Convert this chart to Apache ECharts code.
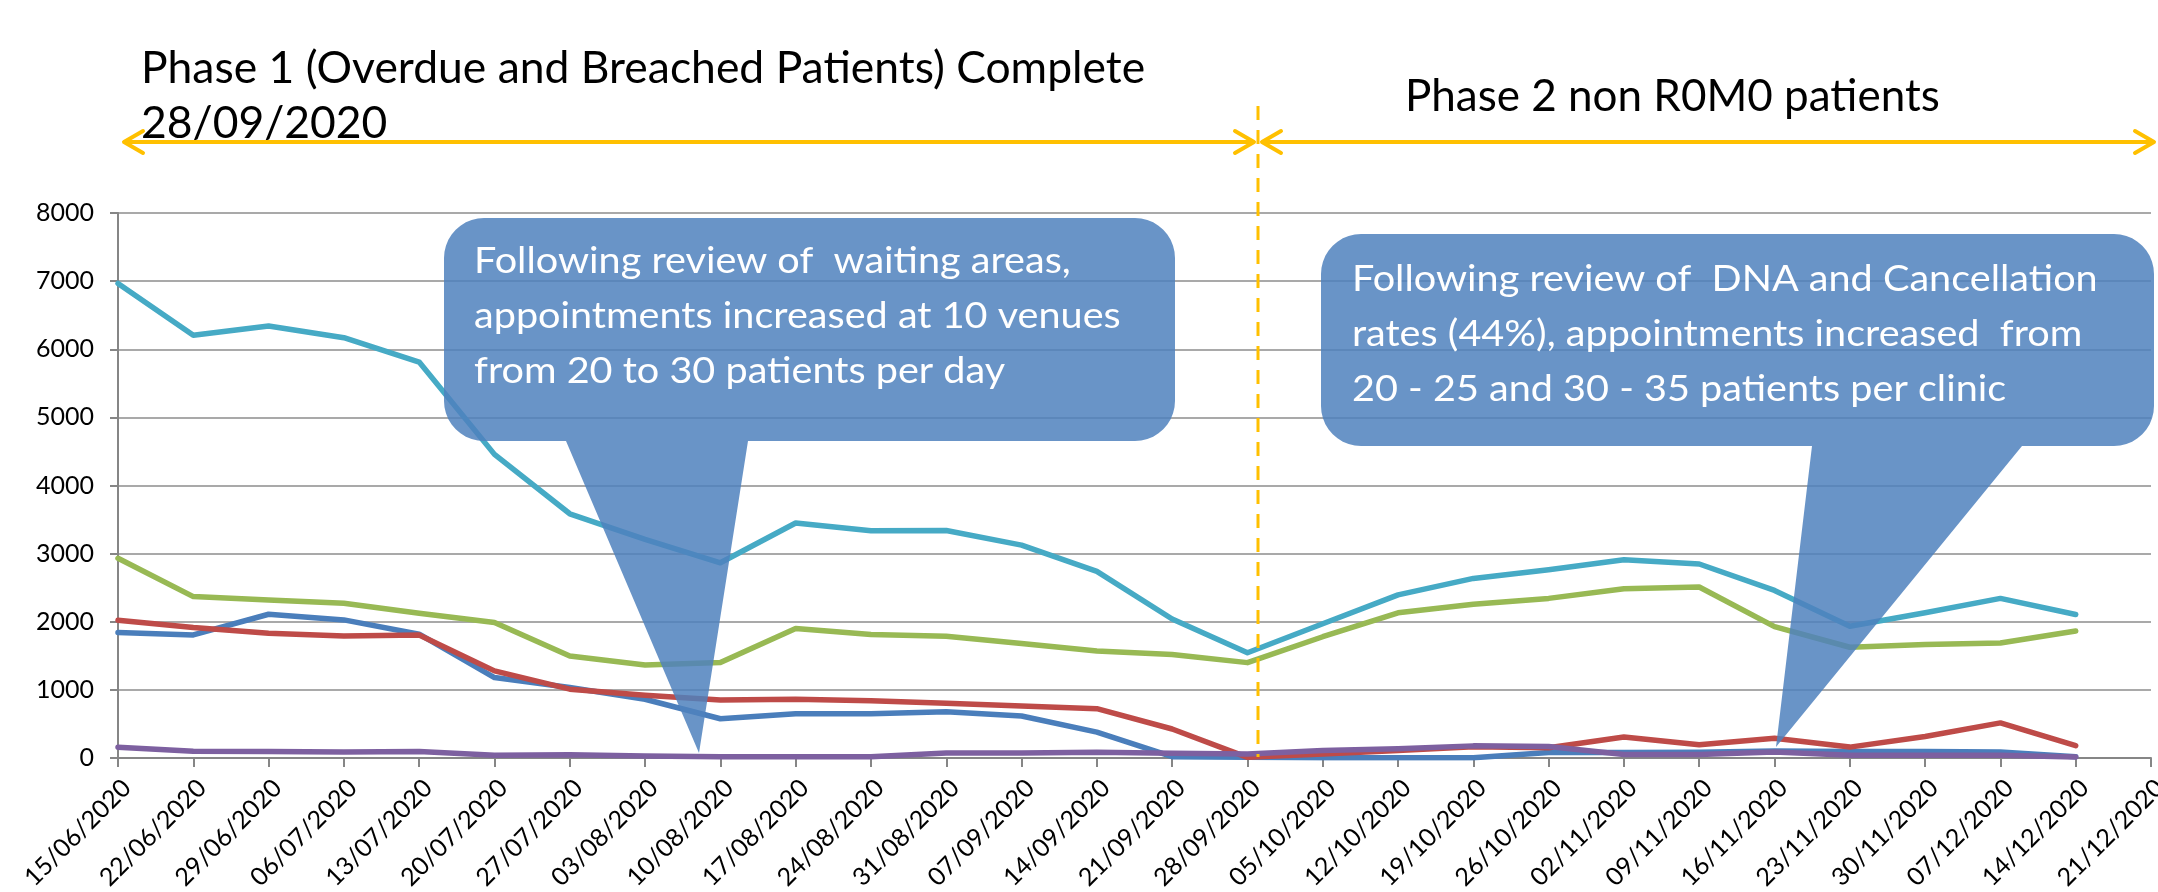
<!DOCTYPE html>
<html><head><meta charset="utf-8">
<script src="https://cdn.jsdelivr.net/npm/echarts@6/dist/echarts.min.js"></script>
<style>html,body{margin:0;padding:0;background:#fff}#c{width:2158px;height:892px}</style>
</head><body><div id="c"></div>
<script>
const categories = ['15/06/2020','22/06/2020','29/06/2020','06/07/2020','13/07/2020','20/07/2020','27/07/2020','03/08/2020','10/08/2020','17/08/2020','24/08/2020','31/08/2020','07/09/2020','14/09/2020','21/09/2020','28/09/2020','05/10/2020','12/10/2020','19/10/2020','26/10/2020','02/11/2020','09/11/2020','16/11/2020','23/11/2020','30/11/2020','07/12/2020','14/12/2020','21/12/2020'];
const blueValues   = [1841,1807,2110,2027,1817,1181,1034,862,576,650,650,680,616,379,20,10,5,5,5,79,79,84,104,94,94,89,20,null];
const redValues    = [2022,1914,1831,1792,1807,1279,1010,921,852,862,842,803,764,724,426,10,60,110,165,150,307,195,290,160,315,515,180,null];
const greenValues  = [2932,2369,2320,2271,2125,1988,1497,1366,1402,1901,1812,1786,1681,1570,1520,1400,1780,2131,2258,2343,2485,2510,1929,1626,1667,1687,1864,null];
const purpleValues = [158,99,94,89,94,39,49,30,20,20,20,74,74,84,69,59,109,134,178,168,50,50,89,40,40,40,15,null];
const aquaValues   = [6966,6204,6340,6169,5812,4457,3585,3210,2866,3450,3335,3340,3125,2740,2040,1545,1970,2394,2636,2763,2910,2848,2460,1935,2131,2343,2106,null];
const yTicks = {min:0, max:8000, interval:1000};

const FONT = 'Lato, "Open Sans", sans-serif';
const ORANGE = '#FFC000';

function calloutPoints(x0,y0,x1,y1,r,tailL,tailR,tipX,tipY){
  const pts=[];
  function arc(cx,cy,a0,a1){for(let k=0;k<=10;k++){const a=a0+(a1-a0)*k/10;pts.push([cx+r*Math.cos(a),cy+r*Math.sin(a)]);}}
  arc(x0+r,y0+r,Math.PI,1.5*Math.PI);
  arc(x1-r,y0+r,1.5*Math.PI,2*Math.PI);
  arc(x1-r,y1-r,0,0.5*Math.PI);
  pts.push([tailR,y1]);pts.push([tipX,tipY]);pts.push([tailL,y1]);
  arc(x0+r,y1-r,0.5*Math.PI,Math.PI);
  return pts;
}
function txt(x,y,s,size,color,sx){
  return {type:'text',x:x,y:y,scaleX:sx||1,z:110,silent:true,style:{text:s,font:size+'px '+FONT,fill:color,textAlign:'left',textVerticalAlign:'middle',align:'left',verticalAlign:'middle'}};
}
function arrowHead(tx,ty,dir){
  return {type:'polyline',z:105,silent:true,shape:{points:[[tx+dir*19,ty-11],[tx,ty],[tx+dir*19,ty+11]]},style:{stroke:ORANGE,lineWidth:4,fill:null,lineCap:'round',lineJoin:'round'}};
}

const AY=142;
const elements=[
  txt(141,69,'Phase 1 (Overdue and Breached Patients) Complete',44,'#000',1.01),
  txt(141,124,'28/09/2020',44,'#000',1.01),
  txt(1405,97,'Phase 2 non R0M0 patients',44,'#000',1.0),
  {type:'line',z:104,silent:true,shape:{x1:1258,y1:106,x2:1258,y2:757},style:{stroke:ORANGE,lineWidth:3,lineDash:[14,10]}},
  {type:'line',z:105,silent:true,shape:{x1:124,y1:AY,x2:1254,y2:AY},style:{stroke:ORANGE,lineWidth:4}},
  arrowHead(124,AY,1),arrowHead(1254,AY,-1),
  {type:'line',z:105,silent:true,shape:{x1:1262,y1:AY,x2:2154,y2:AY},style:{stroke:ORANGE,lineWidth:4}},
  arrowHead(1262,AY,1),arrowHead(2154,AY,-1),
  {type:'polygon',z:100,silent:true,shape:{points:calloutPoints(444,218,1175,441,40,566,748,699,753)},style:{fill:'rgba(79,129,189,0.85)'}},
  txt(474,261,'Following review of  waiting areas,',36,'#fff',1.1),
  txt(474,316,'appointments increased at 10 venues',36,'#fff',1.1),
  txt(474,371,'from 20 to 30 patients per day',36,'#fff',1.1),
  {type:'polygon',z:100,silent:true,shape:{points:calloutPoints(1321,234,2154,446,40,1812,2022,1776,747)},style:{fill:'rgba(79,129,189,0.85)'}},
  txt(1352,279,'Following review of  DNA and Cancellation',36,'#fff',1.1),
  txt(1352,334,'rates (44%), appointments increased  from',36,'#fff',1.1),
  txt(1352,389,'20 - 25 and 30 - 35 patients per clinic',36,'#fff',1.1)
];

function mk(name,data,color){
  return {name:name,type:'line',data:data,showSymbol:false,symbol:'none',smooth:false,connectNulls:false,
    lineStyle:{color:color,width:5.5,cap:'round',join:'round'},itemStyle:{color:color},emphasis:{disabled:true},silent:true};
}

const chart=echarts.init(document.getElementById('c'),null,{renderer:'canvas'});
chart.setOption({
  animation:false,
  backgroundColor:'#fff',
  textStyle:{fontFamily:FONT},
  grid:{left:118,right:7,top:213,bottom:134,containLabel:false,outerBoundsMode:'none'},
  xAxis:{type:'category',data:categories,boundaryGap:false,
    axisLine:{show:true,lineStyle:{color:'#868686',width:2}},
    axisTick:{show:true,interval:0,length:9,lineStyle:{color:'#868686',width:2}},
    axisLabel:{interval:0,rotate:45,fontSize:25,color:'#000',fontFamily:FONT,margin:17,verticalAlign:'top'},
    splitLine:{show:false}},
  yAxis:{type:'value',min:yTicks.min,max:yTicks.max,interval:yTicks.interval,
    axisLine:{show:true,lineStyle:{color:'#868686',width:2}},
    axisTick:{show:true,length:8,lineStyle:{color:'#868686',width:2}},
    axisLabel:{fontSize:25,color:'#000',fontFamily:FONT,margin:24,formatter:function(v){return String(v);}},
    splitLine:{show:true,lineStyle:{color:'#8c8c8c',width:1.5}}},
  series:[mk('Blue',blueValues,'#4A7EBB'),mk('Red',redValues,'#BE4B48'),mk('Green',greenValues,'#98B954'),mk('Purple',purpleValues,'#7D60A0'),mk('Aqua',aquaValues,'#46AAC5')],
  graphic:{elements:elements}
});
</script></body></html>
